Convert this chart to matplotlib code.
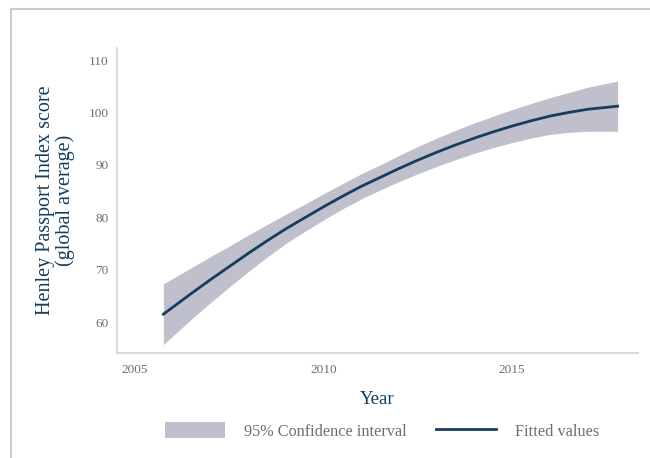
import numpy as np
import matplotlib
matplotlib.use('Agg')
from matplotlib import pyplot as plt
from matplotlib.patches import Patch
from matplotlib.lines import Line2D

plt.rcParams['font.family'] = ['Liberation Serif', 'DejaVu Serif']

# values
years = [2005.75, 2006.5, 2007.0, 2007.5, 2008.0, 2008.5, 2009.0, 2009.5,
         2010.0, 2010.5, 2011.0, 2011.5, 2012.0, 2012.5, 2013.0, 2013.5,
         2014.0, 2014.5, 2015.0, 2015.5, 2016.0, 2016.5, 2017.0, 2017.8]
fitted = [61.5, 65.5, 68.1, 70.6, 73.1, 75.5, 77.8, 79.9,
          82.0, 84.0, 85.9, 87.6, 89.3, 90.9, 92.4, 93.8,
          95.1, 96.3, 97.4, 98.4, 99.3, 100.0, 100.6, 101.2]
ci_upper = [67.3, 70.4, 72.5, 74.5, 76.6, 78.6, 80.6, 82.5,
            84.5, 86.4, 88.3, 90.0, 91.8, 93.5, 95.1, 96.6,
            98.0, 99.3, 100.55, 101.7, 102.8, 103.8, 104.8, 106.0]
ci_lower = [55.7, 60.6, 63.7, 66.7, 69.6, 72.4, 75.0, 77.3,
            79.5, 81.6, 83.5, 85.2, 86.8, 88.3, 89.7, 91.0,
            92.2, 93.3, 94.25, 95.1, 95.8, 96.2, 96.4, 96.4]
xticks = [2005, 2010, 2015]
yticks = [60, 70, 80, 90, 100, 110]

navy = '#153d5e'
band = '#c0c0cd'
grey = '#6e6e6e'
spine = '#d2d2de'

fig = plt.figure(figsize=(6.5, 4.58), dpi=100)
ax = fig.add_axes([0.18, 0.2293, 0.8015, 0.6659])

ax.fill_between(years, ci_lower, ci_upper, color=band, linewidth=0)
ax.plot(years, fitted, color=navy, linewidth=2)

ax.set_xlim(2004.52, 2018.34)
ax.set_ylim(54.1, 112.3)
ax.set_xticks(xticks)
ax.set_yticks(yticks)
ax.tick_params(length=0, labelsize=9.5, labelcolor=grey)
ax.tick_params(axis='x', pad=8)
ax.tick_params(axis='y', pad=6)

for s in ['top', 'right']:
    ax.spines[s].set_visible(False)
for s in ['left', 'bottom']:
    ax.spines[s].set_color(spine)
    ax.spines[s].set_linewidth(1.2)

ax.set_ylabel('Henley Passport Index score\n(global average)', fontsize=14.5,
              color=navy, labelpad=10, linespacing=1.0)
ax.set_xlabel('Year', fontsize=13.5, color=navy, labelpad=11)

handles = [Patch(facecolor=band, edgecolor='none'),
           Line2D([0], [0], color=navy, linewidth=2)]
fig.legend(handles, ['95% Confidence interval', 'Fitted values'],
           loc='center', bbox_to_anchor=(0.5875, 0.059), ncol=2,
           frameon=False, fontsize=11.7, labelcolor=grey,
           handlelength=3.7, handleheight=1.05, handletextpad=1.15,
           columnspacing=1.8)

# light frame around the figure
fig.add_artist(Line2D([10.5 / 650, 10.5 / 650], [0, 1 - 8.5 / 458],
                      color='#c9cdd3', linewidth=1.5))
fig.add_artist(Line2D([10.5 / 650, 1], [1 - 8.5 / 458, 1 - 8.5 / 458],
                      color='#c9cdd3', linewidth=1.5))

fig.savefig('out.png', dpi=100)
